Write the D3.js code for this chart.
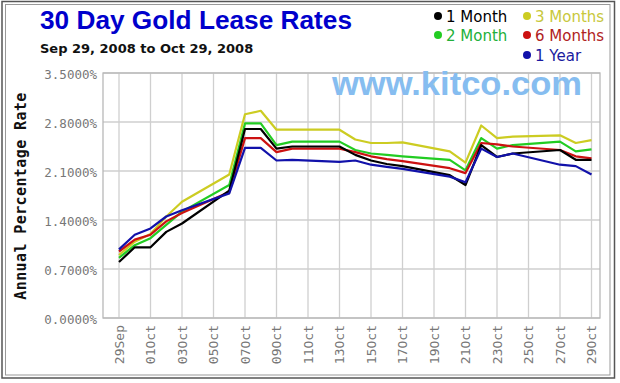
<!DOCTYPE html>
<html><head><meta charset="utf-8">
<script src="https://cdn.jsdelivr.net/npm/d3@7"></script>
<style>html,body{margin:0;padding:0;background:#fff;}svg{display:block;}</style>
</head><body>
<svg id="chart" width="620" height="383"></svg>
<script>
const dates = ["2008-09-29","2008-09-30","2008-10-01","2008-10-02","2008-10-03","2008-10-06","2008-10-07","2008-10-08","2008-10-09","2008-10-10","2008-10-13","2008-10-14","2008-10-15","2008-10-16","2008-10-17","2008-10-20","2008-10-21","2008-10-22","2008-10-23","2008-10-24","2008-10-27","2008-10-28","2008-10-29"];
const oneMonth   = [0.80,1.01,1.01,1.23,1.35,1.82,2.70,2.70,2.42,2.45,2.45,2.33,2.25,2.20,2.17,2.04,1.90,2.47,2.30,2.35,2.40,2.26,2.26];
const twoMonth   = [0.86,1.04,1.14,1.33,1.52,1.90,2.78,2.78,2.47,2.52,2.52,2.40,2.35,2.33,2.31,2.26,2.11,2.57,2.42,2.47,2.52,2.38,2.41];
const threeMonth = [0.90,1.09,1.20,1.45,1.66,2.05,2.91,2.96,2.69,2.69,2.69,2.55,2.50,2.50,2.51,2.38,2.22,2.75,2.57,2.59,2.61,2.50,2.54];
const sixMonth   = [0.95,1.12,1.19,1.38,1.50,1.80,2.57,2.57,2.37,2.42,2.42,2.37,2.31,2.27,2.24,2.14,2.07,2.50,2.48,2.45,2.40,2.31,2.28];
const oneYear    = [0.98,1.19,1.28,1.45,1.54,1.78,2.43,2.43,2.25,2.26,2.23,2.25,2.19,2.16,2.13,2.02,1.94,2.42,2.30,2.35,2.19,2.17,2.05];
const seriesNames = ["1 Month","2 Month","3 Months","6 Months","1 Year"];
const xTickLabels = ["29Sep","01Oct","03Oct","05Oct","07Oct","09Oct","11Oct","13Oct","15Oct","17Oct","19Oct","21Oct","23Oct","25Oct","27Oct","29Oct"];
const yTicks = [0, 0.7, 1.4, 2.1, 2.8, 3.5];

const lineColors = {"1 Month":"#000000","2 Month":"#22cc22","3 Months":"#cccc22","6 Months":"#cc1111","1 Year":"#1111aa"};
const textColors = {"1 Month":"#000000","2 Month":"#22b03a","3 Months":"#c8c83c","6 Months":"#b02222","1 Year":"#1a1aa0"};

const svg = d3.select("#chart");
const parse = d3.utcParse("%Y-%m-%d");
const parseTick = d3.utcParse("%d%b%Y");
const D = dates.map(parse);
const seriesData = {"1 Month":oneMonth,"2 Month":twoMonth,"3 Months":threeMonth,"6 Months":sixMonth,"1 Year":oneYear};

const plot = {left:103, right:600, top:73, bottom:318};
const x = d3.scaleUtc().domain([D[0], D[D.length-1]]).range([119, 591.5]);
const y = d3.scaleLinear().domain([0, 3.5]).range([plot.bottom, plot.top]);
const tickDates = xTickLabels.map(t => parseTick(t + "2008"));

// outer frame
svg.append("rect").attr("x",2).attr("y",1.5).attr("width",612.5).attr("height",376.5)
  .attr("fill","#fff").attr("stroke","#555").attr("stroke-width",1.5);
svg.append("rect").attr("x",5.5).attr("y",4.5).attr("width",604.5).attr("height",370.5)
  .attr("fill","none").attr("stroke","#999").attr("stroke-width",1);

// plot background
svg.append("rect").attr("x",plot.left).attr("y",plot.top)
  .attr("width",plot.right-plot.left).attr("height",plot.bottom-plot.top)
  .attr("fill","#fff");

// grid
const grid = svg.append("g").attr("stroke","#cfcfcf").attr("stroke-width",1.3);
grid.selectAll("line.v").data(tickDates).join("line").attr("class","v")
  .attr("x1",d=>x(d)).attr("x2",d=>x(d)).attr("y1",plot.top).attr("y2",plot.bottom);
grid.selectAll("line.h").data(yTicks).join("line").attr("class","h")
  .attr("x1",plot.left).attr("x2",plot.right).attr("y1",d=>y(d)).attr("y2",d=>y(d));

svg.append("rect").attr("x",plot.left).attr("y",plot.top)
  .attr("width",plot.right-plot.left).attr("height",plot.bottom-plot.top)
  .attr("fill","none").attr("stroke","#b8b8b8").attr("stroke-width",1.3);

// watermark
svg.append("text").attr("x",332).attr("y",95).attr("textLength",250).attr("lengthAdjust","spacingAndGlyphs")
  .attr("font-family","Liberation Sans, Arial, sans-serif").attr("font-weight","bold").attr("font-size",33)
  .attr("fill","#86bdf0").text("www.kitco.com");

// axes
const yAxis = d3.axisLeft(y).tickValues(yTicks).tickSize(0).tickPadding(6)
  .tickFormat(d => d3.format(".4f")(d) + "%");
const ya = svg.append("g").attr("transform",`translate(${plot.left},0)`).call(yAxis);
ya.select(".domain").remove();
ya.selectAll("text").attr("font-family","DejaVu Sans Mono, monospace").attr("font-size",12.5)
  .attr("fill","#777").attr("dy","0.4em");

const xAxis = d3.axisBottom(x).tickValues(tickDates).tickSize(0)
  .tickFormat((d,i) => xTickLabels[i]);
const xa = svg.append("g").attr("transform",`translate(0,${plot.bottom})`).call(xAxis);
xa.select(".domain").remove();
xa.selectAll("text").attr("font-family","DejaVu Sans Mono, monospace").attr("font-size",13)
  .attr("fill","#777").attr("text-anchor","end").attr("y",0).attr("dy",0)
  .attr("transform","translate(4,7) rotate(-90)");

// y title
svg.append("text").attr("transform","translate(26,196) rotate(-90)").attr("text-anchor","middle")
  .attr("font-family","DejaVu Sans Mono, monospace").attr("font-weight","bold").attr("font-size",15)
  .attr("letter-spacing",0.4).attr("fill","#111").text("Annual Percentage Rate");

// lines
const line = d3.line().x((d,i)=>x(D[i])).y(d=>y(d));
const drawOrder = ["3 Months","2 Month","6 Months","1 Month","1 Year"];
svg.append("g").selectAll("path").data(drawOrder).join("path")
  .attr("d", n => line(seriesData[n]))
  .attr("fill","none").attr("stroke", n => lineColors[n]).attr("stroke-width",2.2)
  .attr("stroke-linejoin","round");

// title
svg.append("text").attr("x",40).attr("y",29).attr("textLength",312).attr("lengthAdjust","spacingAndGlyphs")
  .attr("font-family","Liberation Sans, Arial, sans-serif").attr("font-weight","bold").attr("font-size",25)
  .attr("fill","#0000cc").text("30 Day Gold Lease Rates");
svg.append("text").attr("x",40).attr("y",53)
  .attr("font-family","DejaVu Sans, sans-serif").attr("font-weight","bold").attr("font-size",13)
  .attr("fill","#111").text("Sep 29, 2008 to Oct 29, 2008");

// legend
const legendPos = {"1 Month":[438,16],"3 Months":[527,16],"2 Month":[438,35],"6 Months":[527,35],"1 Year":[527,55]};
const lg = svg.append("g").selectAll("g").data(seriesNames).join("g")
  .attr("transform", n => `translate(${legendPos[n][0]},${legendPos[n][1]})`);
lg.append("circle").attr("r",4).attr("fill", n => lineColors[n]);
lg.append("text").attr("x",8).attr("y",5.5)
  .attr("font-family","DejaVu Sans, sans-serif").attr("font-size",15)
  .attr("fill", n => textColors[n]).text(n => n);
</script>
</body></html>
